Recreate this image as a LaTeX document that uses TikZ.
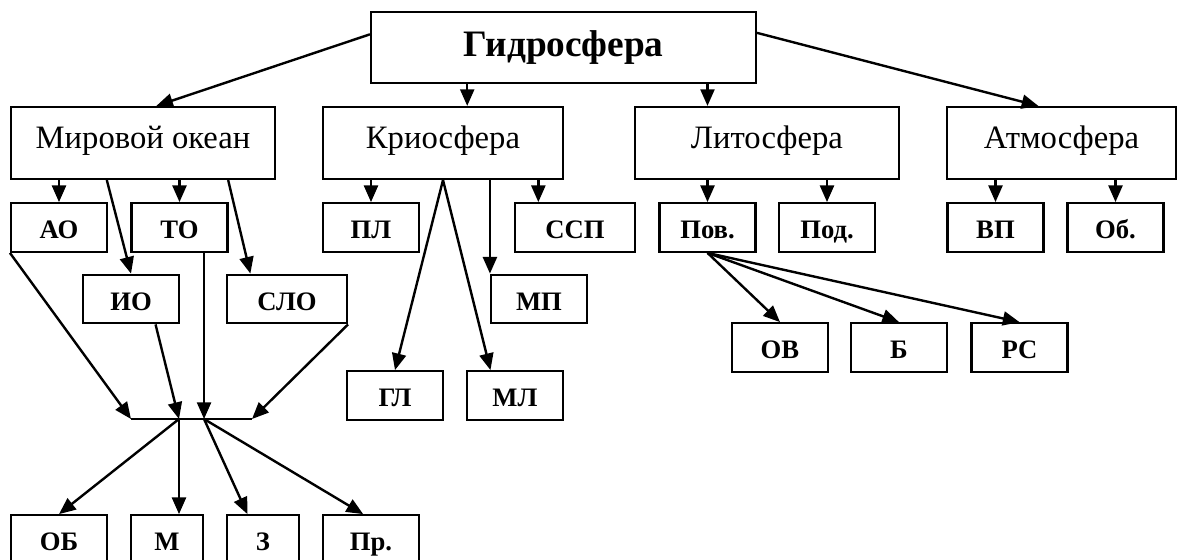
\documentclass[tikz,border=0pt]{standalone}
\usepackage{fontspec}
\setmainfont{Liberation Serif}
\usepackage{tikz}
\usetikzlibrary{arrows.meta, positioning, calc}

\begin{document}
\begin{tikzpicture}[x=0.75pt, y=-0.75pt,
  box/.style={rectangle, draw, line width=1.6pt, inner sep=0pt, minimum width=72pt,
              minimum height=36.5pt, text height=17pt, text depth=0pt,
              font=\fontsize{20}{22}\selectfont\bfseries},
  bigbox/.style={box, minimum width=198pt, minimum height=54pt,
                 text height=15pt, text depth=7pt, font=\fontsize{24.5}{26}\selectfont},
  arr/.style={-{Triangle[length=12.5pt, width=10.5pt]}, line width=1.8pt}
]
\clip (0,0) rectangle (1178,560);
\node[bigbox, minimum width=288.75pt, minimum height=53.25pt, text height=19pt, text depth=5pt,
      font=\fontsize{28}{30}\selectfont\bfseries] (gidro) at (563.5,47.5) {Гидросфера};
\node[bigbox] (mo) at (143,143) {Мировой океан};
\node[bigbox, minimum width=180pt] (krio) at (443,143) {Криосфера};
\node[bigbox] (lito) at (767,143) {Литосфера};
\node[bigbox, minimum width=171.75pt] (atmo) at (1061.5,143) {Атмосфера};

\node[box] (ao) at (59,227.5) {АО};
\node[box] (to) at (179.5,227.5) {ТО};
\node[box] (pl) at (371,227.5) {ПЛ};
\node[box, minimum width=90pt] (ssp) at (575,227.5) {ССП};
\node[box] (pov) at (707.5,227.5) {Пов.};
\node[box] (pod) at (827,227.5) {Под.};
\node[box] (vp) at (995.5,227.5) {ВП};
\node[box] (obl) at (1115.5,227.5) {Об.};

\node[box] (io) at (131,299) {ИО};
\node[box, minimum width=90pt] (slo) at (287,299) {СЛО};
\node[box] (mp) at (539,299) {МП};
\node[box] (ov) at (780,347.5) {ОВ};
\node[box] (b) at (899,347.5) {Б};
\node[box] (rs) at (1019.5,347.5) {РС};
\node[box] (gl) at (395,395.5) {ГЛ};
\node[box] (ml) at (515,395.5) {МЛ};

\node[box] (obb) at (59,539.5) {ОБ};
\node[box, minimum width=54pt] (m) at (167,539.5) {М};
\node[box, minimum width=54pt] (z) at (263,539.5) {З};
\node[box] (pr) at (371,539.5) {Пр.};

\coordinate (k1) at ($(krio.north west)!0.6!(krio.north east)$);
\coordinate (k2) at ($(ssp.north west)!0.2!(ssp.north east)$);
\coordinate (k3) at ($(ml.north west)!0.25!(ml.north east)$);
\coordinate (t1) at ($(to.south west)!0.75!(to.south east)$);
\coordinate (jl) at (131,419);
\coordinate (jr) at (252,419);
\coordinate (j1) at (179,419);
\coordinate (j2) at (t1 |- jl);

\draw[arr] ($(gidro.north west)!0.32!(gidro.south west)$) -- ($(mo.north west)!0.55!(mo.north east)$);
\draw[arr] ($(gidro.north east)!0.3!(gidro.south east)$) -- ($(atmo.north west)!0.4!(atmo.north east)$);
\draw[arr] (k1 |- gidro.south) -- (k1);
\draw[arr] (pov.north |- gidro.south) -- (pov.north |- lito.north);

\foreach \c in {ao,to}
  \draw[arr] (\c.north |- mo.south) -- (\c.north);
\draw[arr] ($(mo.south west)!0.364!(mo.south east)$) -- (io.north);
\draw[arr] ($(mo.south west)!0.82!(mo.south east)$) -- ($(slo.north west)!0.2!(slo.north east)$);

\draw[arr] (pl.north |- krio.south) -- (pl.north);
\draw[arr] (k2 |- krio.south) -- (k2);
\draw[arr] (mp.north west |- krio.south) -- (mp.north west);
\draw[arr] (krio.south) -- (gl.north);
\draw[arr] (krio.south) -- (k3);

\foreach \c in {pov,pod}
  \draw[arr] (\c.north |- lito.south) -- (\c.north);
\foreach \c in {vp,obl}
  \draw[arr] (\c.north |- atmo.south) -- (\c.north);
\foreach \c in {ov,b,rs}
  \draw[arr] (pov.south) -- (\c.north);

\draw[line width=1.8pt] (jl) -- (jr);
\draw[arr] (ao.south west) -- (jl);
\draw[arr] ($(io.south west)!0.75!(io.south east)$) -- (j1);
\draw[arr] (t1) -- (j2);
\draw[arr] (slo.south east) -- (jr);
\draw[arr] (j1) -- (obb.north);
\draw[arr] (j1) -- (j1 |- m.north);
\draw[arr] (j2) -- ($(z.north west)!0.29!(z.north east)$);
\draw[arr] (j2) -- ($(pr.north west)!0.42!(pr.north east)$);
\end{tikzpicture}
\end{document}
